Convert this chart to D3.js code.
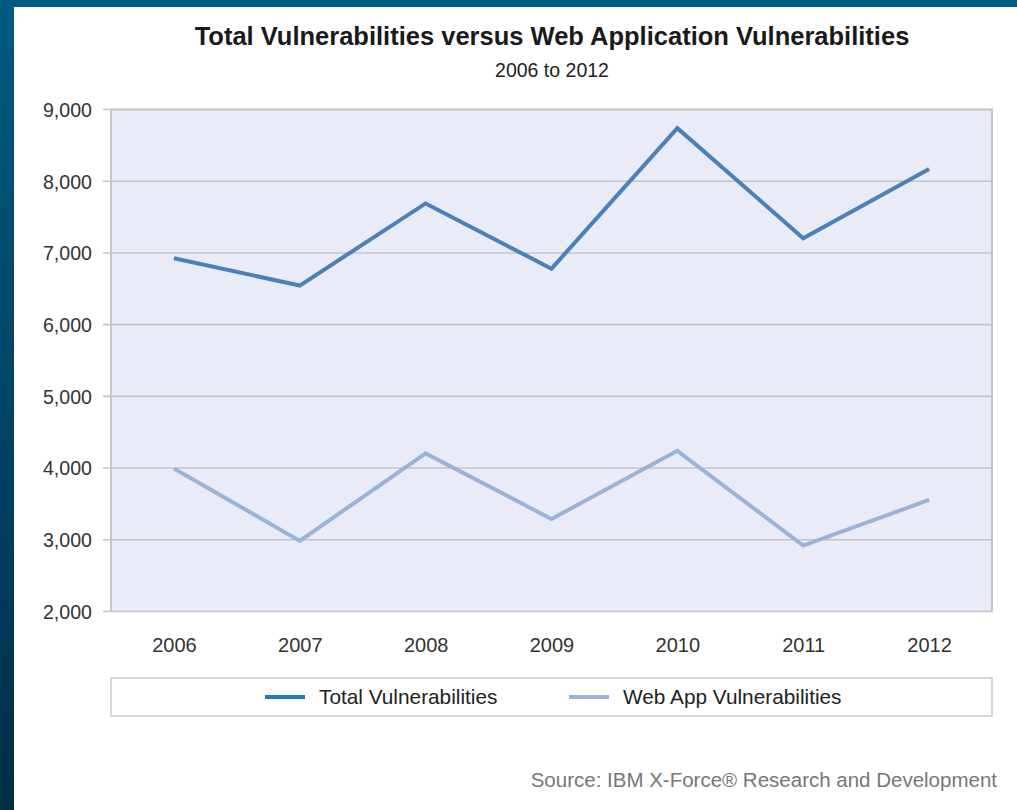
<!DOCTYPE html>
<html>
<head>
<meta charset="utf-8">
<script src="https://cdn.jsdelivr.net/npm/d3@7/dist/d3.min.js"></script>
<style>
  html, body { margin: 0; padding: 0; background: #fff; }
  svg { display: block; }
</style>
</head>
<body>
<svg id="chart" width="1017" height="810"></svg>
<script>
const years = ["2006", "2007", "2008", "2009", "2010", "2011", "2012"];
const totalVulns = [6925, 6545, 7690, 6780, 8740, 7205, 8170];
const webAppVulns = [3995, 2985, 4205, 3290, 4240, 2920, 3555];
const yTicks = [2000, 3000, 4000, 5000, 6000, 7000, 8000, 9000];
const seriesNames = ["Total Vulnerabilities", "Web App Vulnerabilities"];

const svg = d3.select("#chart");
const W = 1017, H = 810;
const font = "'Liberation Sans', Arial, Helvetica, sans-serif";

// background frame
const defs = svg.append("defs");
const grad = defs.append("linearGradient").attr("id", "frame").attr("x1", 0).attr("y1", 0).attr("x2", 0).attr("y2", 1);
grad.append("stop").attr("offset", "0%").attr("stop-color", "#005b82");
grad.append("stop").attr("offset", "100%").attr("stop-color", "#002e47");
svg.append("rect").attr("x", 0).attr("y", 0).attr("width", W).attr("height", H).attr("fill", "#ffffff");
svg.append("rect").attr("x", 0).attr("y", 0).attr("width", 14).attr("height", H).attr("fill", "url(#frame)");
svg.append("rect").attr("x", 0).attr("y", 0).attr("width", W).attr("height", 7).attr("fill", "#005b82");

const plot = { left: 111, right: 992, top: 109.5, bottom: 611.5 };

const x = d3.scalePoint().domain(years).range([plot.left, plot.right]).padding(0.5);
const y = d3.scaleLinear().domain([2000, 9000]).range([plot.bottom, plot.top]);

// title
svg.append("text").attr("x", 552).attr("y", 45).attr("text-anchor", "middle")
  .attr("font-family", font).attr("font-weight", "bold").attr("font-size", 25.5).attr("fill", "#1a1a1a")
  .text("Total Vulnerabilities versus Web Application Vulnerabilities");
svg.append("text").attr("x", 552).attr("y", 77).attr("text-anchor", "middle")
  .attr("font-family", font).attr("font-size", 19.5).attr("fill", "#222")
  .text("2006 to 2012");

// plot background
svg.append("rect").attr("x", plot.left).attr("y", plot.top)
  .attr("width", plot.right - plot.left).attr("height", plot.bottom - plot.top)
  .attr("fill", "#e9ecf6");

// gridlines
svg.append("g").selectAll("line").data(yTicks).join("line")
  .attr("x1", plot.left - 8).attr("x2", plot.right)
  .attr("y1", d => y(d)).attr("y2", d => y(d))
  .attr("stroke", "#c4c4c8").attr("stroke-width", 1.6);

// frame of plot (left, top, right)
svg.append("path")
  .attr("d", `M${plot.left},${plot.bottom}V${plot.top}H${plot.right}V${plot.bottom}`)
  .attr("fill", "none").attr("stroke", "#c6c6ca").attr("stroke-width", 2);

// y axis labels
const yAxis = d3.axisLeft(y).tickValues(yTicks).tickFormat(d3.format(",")).tickSize(0).tickPadding(19);
const yg = svg.append("g").attr("transform", `translate(${plot.left},0)`).call(yAxis);
yg.select(".domain").remove();
yg.selectAll("text").attr("font-family", font).attr("font-size", 19.6).attr("fill", "#333").attr("dy", "0.35em");

// x axis labels
const xAxis = d3.axisBottom(x).tickSize(0).tickPadding(26);
const xg = svg.append("g").attr("transform", `translate(0,${plot.bottom})`).call(xAxis);
xg.select(".domain").remove();
xg.selectAll("text").attr("font-family", font).attr("font-size", 20).attr("fill", "#333");

// lines
const line = d3.line().x((d, i) => x(years[i])).y(d => y(d));
svg.append("path").datum(webAppVulns).attr("d", line)
  .attr("fill", "none").attr("stroke", "#9ab3d8").attr("stroke-width", 4).attr("stroke-linejoin", "miter");
svg.append("path").datum(totalVulns).attr("d", line)
  .attr("fill", "none").attr("stroke", "#4b80b9").attr("stroke-width", 4).attr("stroke-linejoin", "miter");

// legend
svg.append("rect").attr("x", plot.left).attr("y", 678).attr("width", plot.right - plot.left).attr("height", 38)
  .attr("fill", "#fff").attr("stroke", "#cfcfd2").attr("stroke-width", 1.6);
const legendItems = [
  { name: seriesNames[0], color: "#1c7dbd", x: 265 },
  { name: seriesNames[1], color: "#9ab3d8", x: 569 }
];
const lg = svg.append("g").selectAll("g").data(legendItems).join("g")
  .attr("transform", d => `translate(${d.x},697)`);
lg.append("line").attr("x1", 0).attr("x2", 40).attr("y1", 0).attr("y2", 0)
  .attr("stroke", d => d.color).attr("stroke-width", 4);
lg.append("text").attr("x", 54).attr("y", 0).attr("dy", "0.35em")
  .attr("font-family", font).attr("font-size", 20.8).attr("fill", "#222")
  .text(d => d.name);

// source
svg.append("text").attr("x", 997).attr("y", 787).attr("text-anchor", "end")
  .attr("font-family", font).attr("font-size", 20.5).attr("fill", "#777")
  .text("Source: IBM X-Force® Research and Development");
</script>
</body>
</html>
